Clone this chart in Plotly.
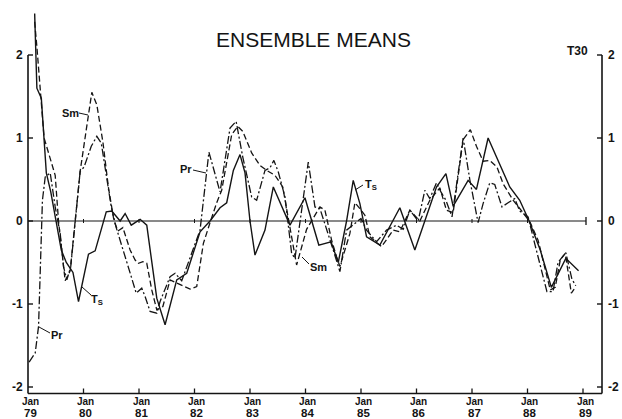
import plotly.graph_objects as go

# Ensemble-mean anomaly series (decimal year, value)
ts_year = [1979.12, 1979.16, 1979.24, 1979.33, 1979.41, 1979.51, 1979.60, 1979.69, 1979.81, 1979.91,
           1980.09, 1980.21, 1980.41, 1980.51, 1980.66, 1980.75, 1980.86, 1981.02, 1981.14, 1981.32,
           1981.47, 1981.68, 1981.86, 1982.10, 1982.28, 1982.46, 1982.58, 1982.70, 1982.82, 1982.91,
           1983.00, 1983.09, 1983.27, 1983.42, 1983.72, 1983.99, 1984.24, 1984.46, 1984.59, 1984.74,
           1984.86, 1984.98, 1985.10, 1985.34, 1985.52, 1985.70, 1985.97, 1986.18, 1986.36, 1986.53,
           1986.66, 1986.93, 1987.08, 1987.29, 1987.47, 1987.68, 1987.86, 1988.03, 1988.23, 1988.43,
           1988.69, 1988.92]
ts_value = [2.5, 1.6, 1.48, 0.58, 0.35, 0.0, -0.35, -0.5, -0.62, -0.97,
            -0.4, -0.36, 0.11, 0.12, 0.0, 0.09, -0.05, 0.02, -0.05, -0.93,
            -1.25, -0.71, -0.63, -0.13, 0.0, 0.16, 0.22, 0.61, 0.8, 0.58,
            0.0, -0.41, -0.11, 0.41, -0.05, 0.28, -0.29, -0.25, -0.5, 0.0,
            0.49, 0.21, -0.19, -0.29, -0.07, 0.16, -0.35, 0.07, 0.41, 0.57,
            0.18, 0.49, 0.38, 1.0, 0.73, 0.41, 0.25, 0.0, -0.35, -0.8,
            -0.45, -0.6]

sm_year = [1979.12, 1979.16, 1979.29, 1979.40, 1979.49, 1979.55, 1979.61, 1979.67, 1979.76, 1979.85,
           1979.94, 1980.05, 1980.15, 1980.24, 1980.35, 1980.45, 1980.55, 1980.62, 1980.71, 1980.84,
           1980.93, 1980.99, 1981.07, 1981.14, 1981.23, 1981.32, 1981.43, 1981.56, 1981.74, 1981.92,
           1982.04, 1982.16, 1982.28, 1982.40, 1982.49, 1982.67, 1982.78, 1982.87, 1983.03, 1983.18,
           1983.30, 1983.45, 1983.59, 1983.72, 1983.84, 1984.02, 1984.26, 1984.35, 1984.47, 1984.56,
           1984.62, 1984.80, 1984.89, 1984.98, 1985.07, 1985.16, 1985.37, 1985.58, 1985.70, 1985.88,
           1986.06, 1986.24, 1986.42, 1986.54, 1986.66, 1986.84, 1986.97, 1987.08, 1987.20, 1987.32,
           1987.45, 1987.56, 1987.74, 1987.92, 1988.05, 1988.19, 1988.41, 1988.50, 1988.59, 1988.68,
           1988.79, 1988.86]
sm_value = [2.4, 2.1, 1.0, 0.75, 0.55, 0.0, -0.4, -0.72, -0.6, 0.0,
            0.6, 1.1, 1.55, 1.4, 0.95, 0.4, 0.0, -0.12, -0.08, -0.35,
            -0.47, -0.51, -0.49, -0.51, -0.83, -1.07, -1.03, -0.71, -0.77, -0.82,
            -0.79, -0.27, -0.02, 0.22, 0.37, 1.04, 1.14, 1.08, 0.82, 0.67,
            0.61, 0.55, 0.41, -0.07, -0.53, -0.1, 0.17, 0.13, -0.23, -0.43,
            -0.55, -0.15, 0.22, 0.15, 0.07, -0.19, -0.31, -0.11, -0.13, 0.13,
            0.0, 0.25, 0.4, 0.13, 0.1, 0.98, 1.1, 0.9, 0.72, 0.73,
            0.65, 0.45, 0.25, 0.1, -0.02, -0.23, -0.83, -0.8, -0.47, -0.39,
            -0.87, -0.8]

pr_year = [1979.02, 1979.13, 1979.19, 1979.26, 1979.31, 1979.40, 1979.49, 1979.58, 1979.64, 1979.70,
           1979.77, 1979.85, 1979.94, 1980.01, 1980.14, 1980.24, 1980.32, 1980.50, 1980.59, 1980.86,
           1980.95, 1981.05, 1981.11, 1981.20, 1981.32, 1981.38, 1981.56, 1981.65, 1981.77, 1982.10,
           1982.26, 1982.46, 1982.64, 1982.75, 1982.87, 1983.03, 1983.12, 1983.27, 1983.36, 1983.43,
           1983.51, 1983.63, 1983.75, 1983.81, 1983.99, 1984.05, 1984.17, 1984.26, 1984.50, 1984.62,
           1984.74, 1984.89, 1985.00, 1985.10, 1985.28, 1985.46, 1985.64, 1985.76, 1985.88, 1986.03,
           1986.15, 1986.24, 1986.36, 1986.44, 1986.53, 1986.64, 1986.84, 1986.96, 1987.11, 1987.20,
           1987.32, 1987.41, 1987.54, 1987.65, 1987.77, 1987.86, 1988.01, 1988.14, 1988.35, 1988.46,
           1988.55, 1988.69, 1988.80, 1988.87]
pr_value = [-1.7, -1.59, -1.27, 0.25, 0.53, 0.58, 0.17, -0.15, -0.55, -0.71,
            -0.55, 0.0, 0.6, 0.65, 0.9, 1.02, 0.94, 0.17, -0.08, -0.67,
            -0.87, -0.81, -0.91, -1.09, -1.11, -0.97, -0.67, -0.63, -0.72, -0.11,
            0.83, 0.35, 1.12, 1.2, 0.77, 0.29, 0.25, 0.61, 0.64, 0.73,
            0.59, 0.29, -0.39, -0.45, 0.41, 0.71, 0.17, 0.15, -0.35, -0.61,
            -0.11, -0.03, 0.03, -0.11, -0.25, -0.11, -0.05, -0.1, 0.13, 0.0,
            0.37, 0.27, 0.46, 0.35, 0.25, 0.05, 1.0, 0.5, -0.02, 0.21,
            0.46, 0.44, 0.17, 0.22, 0.27, 0.12, 0.05, -0.3, -0.85, -0.85,
            -0.5, -0.38, -0.7, -0.78]

x_tick_years = list(range(1979, 1990))
x_tick_labels = ["79", "80", "81", "82", "83", "84", "85", "86", "87", "88", "89"]
y_ticks = [2, 1, 0, -1, -2]

W, H = 622, 419
INK = "#141414"
FONT = "Liberation Sans, Arial, Helvetica, sans-serif"

# page-pixel <-> data mapping used for axis decorations and labels
X0_PX, PX_PER_YEAR = 28.0, 55.5
Y0_PX, PX_PER_UNIT = 221.0, 83.0
ML, MR, MT, MB = 20, 12, 3, 20


def fx(px):
    return 1979 + (px - X0_PX) / PX_PER_YEAR


def fy(py):
    return (Y0_PX - py) / PX_PER_UNIT


def paper_x(px):
    return (px - ML) / (W - ML - MR)


def paper_y(py):
    return (H - MB - py) / (H - MT - MB)


x_range = [fx(ML), fx(W - MR)]
y_range = [fy(H - MB), fy(MT)]

x_left = 1979.0
x_right = fx(602)
y_bottom = fy(393.5)

fig = go.Figure()
fig.add_trace(go.Scatter(x=ts_year, y=ts_value, mode="lines", name="Ts",
                         line=dict(color=INK, width=1.4)))
fig.add_trace(go.Scatter(x=sm_year, y=sm_value, mode="lines", name="Sm",
                         line=dict(color=INK, width=1.3, dash="6px,3px")))
fig.add_trace(go.Scatter(x=pr_year, y=pr_value, mode="lines", name="Pr",
                         line=dict(color=INK, width=1.3, dash="8px,2.5px,2px,2.5px")))

shapes = []


def seg(x0, y0, x1, y1, w=1.5):
    shapes.append(dict(type="line", xref="x", yref="y", x0=x0, y0=y0, x1=x1, y1=y1,
                       line=dict(color=INK, width=w)))


# frame: left, right and bottom axes
seg(x_left, y_bottom, x_left, 2, 1.6)
seg(x_right, y_bottom, x_right, 2, 1.6)
seg(x_left, y_bottom, x_right, y_bottom, 1.6)
for v in y_ticks:
    seg(x_left, v, x_left + 5 / PX_PER_YEAR, v, 1.4)
    seg(x_right, v, x_right - 5 / PX_PER_YEAR, v, 1.4)
for yr in x_tick_years[1:]:
    seg(yr, y_bottom, yr, y_bottom + 5 / PX_PER_UNIT, 1.3)

# zero reference line with small yearly ticks
zero_end = fx(586)
seg(x_left, 0, zero_end, 0, 1.0)
for yr in x_tick_years[1:-1]:
    seg(yr, -2 / PX_PER_UNIT, yr, 2 / PX_PER_UNIT, 1.0)
seg(zero_end, -4 / PX_PER_UNIT, zero_end, 4 / PX_PER_UNIT, 1.3)

# leader lines for the curve labels
leaders = [((39, 327), (50, 333)), ((82, 287), (91, 295)), ((79, 113), (88, 115)),
           ((193, 170), (206, 173)), ((302, 257), (309, 264)), ((355, 190), (363, 185))]
for (ax, ay), (bx, by) in leaders:
    seg(fx(ax), fy(ay), fx(bx), fy(by), 1.0)

annotations = []


def text(px, py, s, size, xanchor="center", bold=True):
    annotations.append(dict(x=paper_x(px), y=paper_y(py), xref="paper", yref="paper",
                            text=("<b>%s</b>" % s) if bold else s,
                            showarrow=False, xanchor=xanchor, yanchor="middle",
                            font=dict(family=FONT, size=size, color=INK)))


text(313, 39, "ENSEMBLE MEANS", 21, bold=False)
text(577, 51, "T30", 12)

for v in y_ticks:
    py = Y0_PX - v * PX_PER_UNIT
    text(25, py, str(v), 12, xanchor="right")
    text(606, py, str(v), 12, xanchor="left")

for yr, lab in zip(x_tick_years, x_tick_labels):
    px = X0_PX + (yr - 1979) * PX_PER_YEAR + 2
    text(px, 401.5, "Jan", 10)
    text(px, 413, lab, 11.5)

text(57, 335, "Pr", 11)
text(97, 300, "T<sub>S</sub>", 11)
text(70, 113, "Sm", 11)
text(186, 169, "Pr", 11)
text(318, 267, "Sm", 11)
text(371, 185, "T<sub>S</sub>", 11)

fig.update_layout(
    width=W, height=H, autosize=False,
    margin=dict(l=ML, r=MR, t=MT, b=MB, pad=0),
    paper_bgcolor="white", plot_bgcolor="white",
    showlegend=False,
    xaxis=dict(range=x_range, visible=False, fixedrange=True),
    yaxis=dict(range=y_range, visible=False, fixedrange=True),
    shapes=shapes, annotations=annotations,
)

fig.write_html("out.html")
